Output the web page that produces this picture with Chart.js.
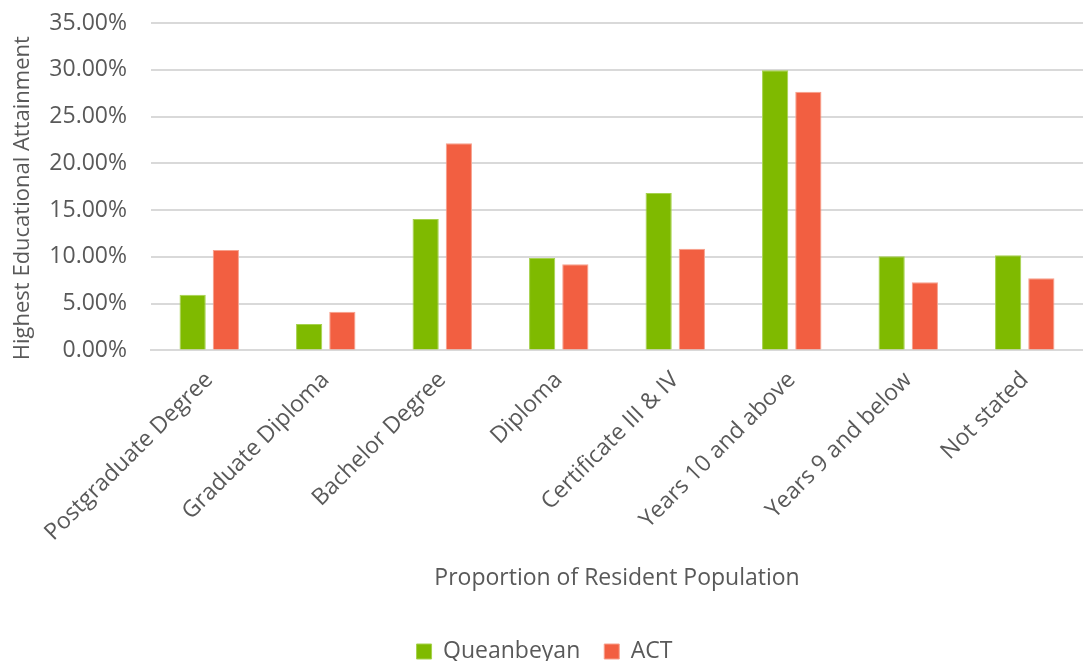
<!DOCTYPE html>
<html>
<head>
<meta charset="utf-8">
<script src="https://cdn.jsdelivr.net/npm/chart.js@4/dist/chart.umd.min.js"></script>
<style>
  html, body { margin: 0; padding: 0; background: #ffffff; }
  #wrap { width: 1083px; height: 661px; position: relative; }
</style>
</head>
<body>
<div id="wrap"><canvas id="chart"></canvas></div>
<script>
// Education categories
const categories = [
  'Postgraduate Degree', 'Graduate Diploma', 'Bachelor Degree', 'Diploma',
  'Certificate III & IV', 'Years 10 and above', 'Years 9 and below', 'Not stated'
];
// Share of resident population (%)
const queanbeyan = [5.96, 2.82, 14.04, 9.89, 16.82, 29.96, 10.07, 10.18];
const act = [10.75, 4.14, 22.14, 9.21, 10.86, 27.64, 7.29, 7.71];
// Value axis ticks (%)
const yTicks = [0, 5, 10, 15, 20, 25, 30, 35];

const textGrey = '#595959';
const fontFamily = '"Open Sans", "Noto Sans", sans-serif';
const fontSize = 23;

new Chart(document.getElementById('chart'), {
  type: 'bar',
  data: {
    labels: categories,
    datasets: [
      { label: 'Queanbeyan', data: queanbeyan, backgroundColor: '#7FBA00', borderColor: '#A6D24D', borderWidth: 1 },
      { label: 'ACT', data: act, backgroundColor: '#F25F41', borderColor: '#F7A08C', borderWidth: 1 }
    ]
  },
  options: {
    responsive: true,
    maintainAspectRatio: false,
    animation: false,
    datasets: { bar: { categoryPercentage: 0.57, barPercentage: 0.79 } },
    layout: { padding: { top: 0, right: 0, left: 6, bottom: -12 } },
    plugins: {
      tooltip: { enabled: false },
      legend: {
        position: 'bottom',
        labels: {
          color: textGrey,
          font: { family: fontFamily, size: fontSize },
          boxWidth: 15, boxHeight: 15, padding: 24
        }
      }
    },
    scales: {
      x: {
        grid: { display: false, drawTicks: false },
        border: { display: true, color: '#D9D9D9', width: 2 },
        ticks: {
          color: textGrey, font: { family: fontFamily, size: fontSize },
          maxRotation: 45, minRotation: 45, padding: 16, autoSkip: false
        },
        title: {
          display: true, text: 'Proportion of Resident Population',
          color: textGrey, font: { family: fontFamily, size: fontSize },
          padding: { top: 2, bottom: 24 }
        },
        // the rotated first label may overhang the value axis
        afterFit: (scale) => { scale.paddingLeft = 0; }
      },
      y: {
        min: 0, max: 35,
        afterBuildTicks: (axis) => { axis.ticks = yTicks.map(v => ({ value: v })); },
        grid: { color: '#D9D9D9', lineWidth: 2, drawTicks: false },
        border: { display: false },
        ticks: {
          color: textGrey, font: { family: fontFamily, size: fontSize }, padding: 24,
          callback: (v) => Number(v).toFixed(2) + '%'
        },
        title: {
          display: true, text: 'Highest Educational Attainment    ',
          color: textGrey, font: { family: fontFamily, size: 22 }, padding: { top: 4, bottom: 2 }
        },
        afterFit: (scale) => {
          scale.width = 145;
          scale.paddingTop = 23;
        }
      }
    }
  }
});
</script>
</body>
</html>
